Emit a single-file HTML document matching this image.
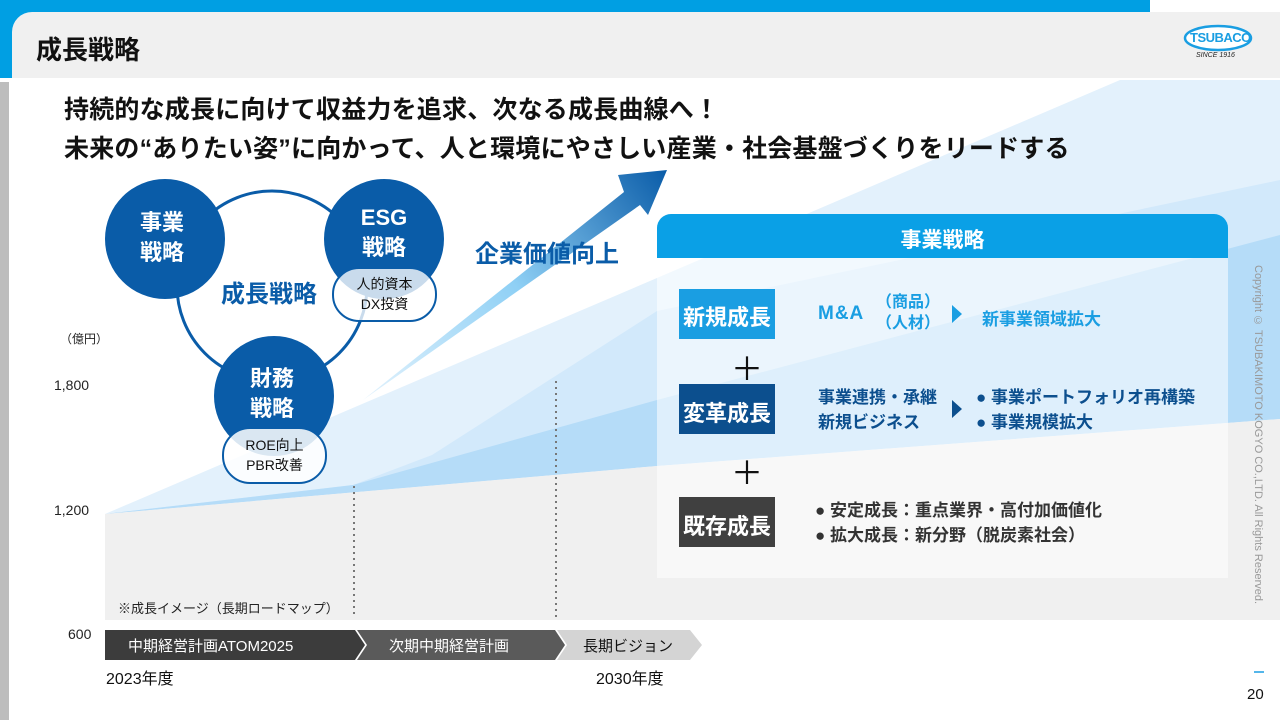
<!DOCTYPE html>
<html><head><meta charset="utf-8"><style>
body{margin:0;width:1280px;height:720px;overflow:hidden;background:#fff;font-family:"Liberation Sans","Noto Sans CJK JP",sans-serif;position:relative}
.a{position:absolute}
.t{position:absolute;white-space:nowrap}
</style></head><body>
<svg class="a" style="left:0;top:0" width="1280" height="720">
<defs>
<linearGradient id="ag" x1="363" y1="400" x2="667" y2="170" gradientUnits="userSpaceOnUse">
<stop offset="0" stop-color="#e4f3fd"/><stop offset="0.5" stop-color="#8fd0f5"/><stop offset="1" stop-color="#0a5ca8"/></linearGradient>
</defs>
<rect x="0" y="0" width="1150" height="14" fill="#009fe3"/>
<rect x="0" y="0" width="12" height="78" fill="#009fe3"/>
<rect x="12" y="12" width="1268" height="66" fill="#f0f0f0"/>
<path d="M12 12 h20 a20 20 0 0 0 -20 20z" fill="#009fe3"/>
<rect x="0" y="82" width="9" height="638" fill="#bdbdbd"/>
<polygon points="105,514 1120,80 1280,80 1280,419 657,466" fill="#e3f1fc"/>
<polygon points="105,514 353,485 432,455 657,311 1280,180 1280,419 657,466" fill="#d2e9fb"/>
<polygon points="105,514 353,485 657,400 1280,235 1280,419 657,466" fill="#b5dcf8"/>
<polygon points="105,514 657,466 1280,419 1280,620 105,620" fill="#f0f0f0"/>
<line x1="354" y1="486" x2="354" y2="618" stroke="#777" stroke-width="2" stroke-dasharray="2,4"/>
<line x1="556" y1="381" x2="556" y2="618" stroke="#777" stroke-width="2" stroke-dasharray="2,4"/>
<polygon points="363,400 624,192 618,175 667,170 648,215 640,205" fill="url(#ag)"/>
<circle cx="272" cy="286" r="95" fill="none" stroke="#0a5ca8" stroke-width="3"/>
<circle cx="165" cy="239" r="60" fill="#0a5ca8"/>
<circle cx="384" cy="239" r="60" fill="#0a5ca8"/>
<circle cx="274" cy="396" r="60" fill="#0a5ca8"/>
<rect x="333" y="268" width="103" height="53" rx="26" fill="rgba(255,255,255,0.78)" stroke="#0a5ca8" stroke-width="2"/>
<rect x="223" y="428" width="103" height="55" rx="27" fill="rgba(255,255,255,0.85)" stroke="#0a5ca8" stroke-width="2"/>
<rect x="657" y="258" width="571" height="320" fill="rgba(255,255,255,0.55)"/>
<path d="M657 258 V228 a14 14 0 0 1 14 -14 H1214 a14 14 0 0 1 14 14 V258z" fill="#0aa0e6"/>
<rect x="679" y="289" width="96" height="50" fill="#1a9ee2"/>
<rect x="679" y="384" width="96" height="50" fill="#0c4f8e"/>
<rect x="679" y="497" width="96" height="50" fill="#404040"/>
<polygon points="952,305 962,314 952,323" fill="#1a9ee2"/>
<polygon points="952,400 962,409 952,418" fill="#0c4f8e"/>
<polygon points="105,630 355,630 365,645 355,660 105,660" fill="#3c3c3c"/>
<polygon points="357,630 555,630 565,645 555,660 357,660 367,645" fill="#5a5a5a"/>
<polygon points="557,630 690,630 702,645 690,660 557,660 567,645" fill="#d4d4d4"/>
<ellipse cx="1218" cy="38" rx="33" ry="12" fill="#fff" stroke="#1a9ee2" stroke-width="2.5"/>
<line x1="1254" y1="672" x2="1264" y2="672" stroke="#1a9ee2" stroke-width="1.5"/>
</svg>
<div class="t" style="left:1190px;top:30px;font-size:13px;font-weight:bold;color:#1a9ee2;letter-spacing:-0.5px">TSUBACO</div>
<div class="t" style="left:1196px;top:52px;font-size:7px;font-style:italic;color:#222">SINCE 1916</div>
<div class="t" style="left:36px;top:30px;font-size:26px;font-weight:bold;color:#111">成長戦略</div>
<div class="t" style="left:64px;top:90px;font-size:25px;font-weight:bold;color:#111;letter-spacing:0.2px">持続的な成長に向けて収益力を追求、次なる成長曲線へ！</div>
<div class="t" style="left:64px;top:129px;font-size:25px;font-weight:bold;color:#111;letter-spacing:0.2px">未来の“ありたい姿”に向かって、人と環境にやさしい産業・社会基盤づくりをリードする</div>
<div class="t" style="left:140px;top:208px;font-size:22px;font-weight:bold;color:#fff;line-height:30px;text-align:center">事業<br>戦略</div>
<div class="t" style="left:359px;top:203px;font-size:22px;font-weight:bold;color:#fff;line-height:30px;text-align:center;width:50px">ESG<br>戦略</div>
<div class="t" style="left:250px;top:364px;font-size:22px;font-weight:bold;color:#fff;line-height:30px;text-align:center">財務<br>戦略</div>
<div class="t" style="left:221px;top:274px;font-size:24px;font-weight:bold;color:#0a5ca8">成長戦略</div>
<div class="t" style="left:333px;top:274px;width:103px;font-size:14px;color:#111;line-height:20px;text-align:center">人的資本<br>DX投資</div>
<div class="t" style="left:223px;top:435px;width:103px;font-size:14px;color:#111;line-height:20px;text-align:center">ROE向上<br>PBR改善</div>
<div class="t" style="left:475px;top:234px;font-size:24px;font-weight:bold;color:#0a5ca8">企業価値向上</div>
<div class="t" style="left:60px;top:330px;font-size:12px;color:#222">（億円）</div>
<div class="t" style="left:54px;top:377px;font-size:14px;color:#222">1,800</div>
<div class="t" style="left:54px;top:502px;font-size:14px;color:#222">1,200</div>
<div class="t" style="left:68px;top:626px;font-size:14px;color:#222">600</div>
<div class="t" style="left:118px;top:598px;font-size:13px;color:#222">※成長イメージ（長期ロードマップ）</div>
<div class="t" style="left:128px;top:635px;font-size:15px;color:#fff">中期経営計画ATOM2025</div>
<div class="t" style="left:389px;top:635px;font-size:15px;color:#fff">次期中期経営計画</div>
<div class="t" style="left:583px;top:635px;font-size:15px;color:#111">長期ビジョン</div>
<div class="t" style="left:106px;top:665px;font-size:16px;color:#111">2023年度</div>
<div class="t" style="left:596px;top:665px;font-size:16px;color:#111">2030年度</div>
<div class="t" style="left:657px;top:224px;width:571px;text-align:center;font-size:21px;font-weight:bold;color:#fff">事業戦略</div>
<div class="t" style="left:679px;top:300px;width:96px;text-align:center;font-size:22px;font-weight:bold;color:#fff">新規成長</div>
<div class="t" style="left:679px;top:396px;width:96px;text-align:center;font-size:22px;font-weight:bold;color:#fff">変革成長</div>
<div class="t" style="left:679px;top:509px;width:96px;text-align:center;font-size:22px;font-weight:bold;color:#fff">既存成長</div>
<div class="t" style="left:731px;top:344px;font-size:32px;color:#111">＋</div>
<div class="t" style="left:731px;top:448px;font-size:32px;color:#111">＋</div>
<div class="t" style="left:818px;top:303px;font-size:19px;font-weight:bold;color:#1a9ee2;letter-spacing:1px">M&amp;A</div>
<div class="t" style="left:876px;top:292px;font-size:16px;font-weight:bold;color:#1a9ee2;line-height:21px">（商品）<br>（人材）</div>
<div class="t" style="left:982px;top:305px;font-size:17px;font-weight:bold;color:#1a9ee2">新事業領域拡大</div>
<div class="t" style="left:818px;top:385px;font-size:17px;font-weight:bold;color:#0c4f8e;line-height:25px">事業連携・承継<br>新規ビジネス</div>
<div class="t" style="left:976px;top:385px;font-size:17px;font-weight:bold;color:#0c4f8e;line-height:25px">●&nbsp;事業ポートフォリオ再構築<br>●&nbsp;事業規模拡大</div>
<div class="t" style="left:815px;top:498px;font-size:17px;font-weight:bold;color:#333;line-height:25px">●&nbsp;安定成長：重点業界・高付加価値化<br>●&nbsp;拡大成長：新分野（脱炭素社会）</div>
<div class="t" style="left:1252px;top:265px;font-size:11px;color:#999;writing-mode:vertical-rl">Copyright © TSUBAKIMOTO KOGYO CO.,LTD. All Rights Reserved.</div>
<div class="t" style="left:1247px;top:686px;font-size:15px;color:#111">20</div>
</body></html>
